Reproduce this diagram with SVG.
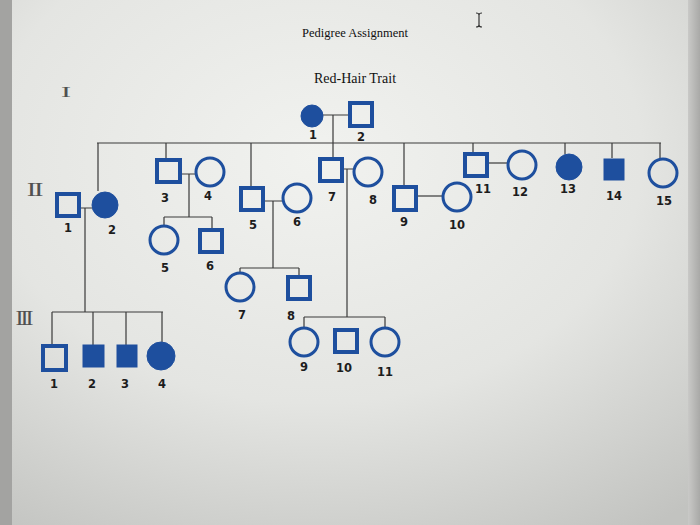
<svg xmlns="http://www.w3.org/2000/svg" width="700" height="525" viewBox="0 0 700 525">
<defs>
<radialGradient id="bg" cx="0.45" cy="0.3" r="0.85">
<stop offset="0" stop-color="#f1f2ef"/>
<stop offset="0.55" stop-color="#e4e5e2"/>
<stop offset="1" stop-color="#c2c3c0"/>
</radialGradient>
<linearGradient id="edgeR" x1="0" y1="0" x2="1" y2="0">
<stop offset="0" stop-color="#c9c9c7"/>
<stop offset="1" stop-color="#a9a9a7"/>
</linearGradient>
</defs>
<style>
.ln{stroke:#3a3a3a;stroke-width:1.2;fill:none}
.sq{fill:none;stroke:#1e4f9e;stroke-width:4}
.ci{fill:none;stroke:#1e4f9e;stroke-width:3}
.af{fill:#1e4f9e;stroke:#1e4f9e;stroke-width:1}
.lb{font-family:"DejaVu Sans",sans-serif;font-size:11.5px;font-weight:bold;fill:#1c1c1c;text-anchor:middle}
.gen{font-family:"Liberation Serif",serif;fill:#505050;text-anchor:middle}
.tt{font-family:"Liberation Serif",serif;fill:#111;text-anchor:middle}
</style>
<rect width="700" height="525" fill="url(#bg)"/>
<rect x="0" y="0" width="12" height="525" fill="#a3a3a1"/>
<rect x="688" y="0" width="12" height="525" fill="url(#edgeR)"/>
<g id="titles">
<text class="tt" x="355" y="37" font-size="12.5">Pedigree Assignment</text>
<text class="tt" x="355" y="83" font-size="14">Red-Hair Trait</text>
</g>
<g id="cursor" stroke="#333" stroke-width="1.2" fill="none">
<path d="M479 14 V26 M476 13 Q479 13 479 15 Q479 13 482 13 M476 27 Q479 27 479 25 Q479 27 482 27"/>
</g>
<g id="generations">
<text class="gen" transform="translate(66 97) scale(2.0 1)" font-size="15">I</text>
<text class="gen" transform="translate(34 196) scale(1.5 1)" font-size="19" letter-spacing="-1.5">II</text>
<text class="gen" transform="translate(23 325) scale(1.2 1)" font-size="20" letter-spacing="-2.5">III</text>
</g>
<g id="connectors">
<path class="ln" d="M323 115 H348 M333 115 V143 M97 143 H661"/>
<path class="ln" d="M98 143 V191 M166 143 V158 M251 143 V186 M333 143 V157 M404 143 V186 M473 143 V152 M565 143 V154 M612 143 V158 M660 143 V159"/>
<path class="ln" d="M81 208 H92 M85 208 V312 M52 312 H163 M52 312 V344 M93 312 V345 M126 312 V345 M162 312 V342"/>
<path class="ln" d="M182 174 H196 M189 174 V217 M164 217 H212 M164 217 V226 M212 217 V228"/>
<path class="ln" d="M265 201 H283 M273 201 V268 M240 268 H299 M240 268 V273 M299 268 V275"/>
<path class="ln" d="M343 169 H354 M347 169 V317 M304 317 H385 M304 317 V328 M385 317 V328"/>
<path class="ln" d="M417 196 H443"/>
<path class="ln" d="M489 163 H508"/>
</g>
<g id="I-1"><circle class="af" cx="312" cy="116" r="11"/><text class="lb" x="313" y="139">1</text></g>
<g id="I-2"><rect class="sq" x="350" y="103" width="22" height="23"/><text class="lb" x="361" y="141">2</text></g>
<g id="II-1"><rect class="sq" x="57" y="194" width="22" height="22"/><text class="lb" x="68" y="232">1</text></g>
<g id="II-2"><circle class="af" cx="105" cy="205" r="13"/><text class="lb" x="112" y="234">2</text></g>
<g id="II-3"><rect class="sq" x="157" y="160" width="23" height="22"/><text class="lb" x="165" y="202">3</text></g>
<g id="II-4"><circle class="ci" cx="210" cy="172" r="14"/><text class="lb" x="208" y="200">4</text></g>
<g id="II-5a"><circle class="ci" cx="164" cy="240" r="14"/><text class="lb" x="165" y="272">5</text></g>
<g id="II-6a"><rect class="sq" x="200" y="230" width="22" height="22"/><text class="lb" x="210" y="270">6</text></g>
<g id="II-5"><rect class="sq" x="241" y="188" width="22" height="22"/><text class="lb" x="253" y="229">5</text></g>
<g id="II-6"><circle class="ci" cx="297" cy="198" r="14"/><text class="lb" x="297" y="226">6</text></g>
<g id="II-7"><rect class="sq" x="320" y="159" width="22" height="22"/><text class="lb" x="332" y="201">7</text></g>
<g id="II-8"><circle class="ci" cx="368" cy="172" r="14"/><text class="lb" x="373" y="204">8</text></g>
<g id="II-9"><rect class="sq" x="394" y="187" width="22" height="23"/><text class="lb" x="404" y="226">9</text></g>
<g id="II-10"><circle class="ci" cx="457" cy="197" r="14"/><text class="lb" x="457" y="229">10</text></g>
<g id="II-11"><rect class="sq" x="465" y="154" width="22" height="22"/><text class="lb" x="483" y="193">11</text></g>
<g id="II-12"><circle class="ci" cx="522" cy="165" r="14"/><text class="lb" x="520" y="196">12</text></g>
<g id="II-13"><circle class="af" cx="569" cy="167" r="13"/><text class="lb" x="568" y="193">13</text></g>
<g id="II-14"><rect class="af" x="604" y="159" width="20" height="21"/><text class="lb" x="614" y="200">14</text></g>
<g id="II-15"><circle class="ci" cx="663" cy="173" r="14"/><text class="lb" x="664" y="205">15</text></g>
<g id="III-1"><rect class="sq" x="43" y="346" width="23" height="24"/><text class="lb" x="54" y="388">1</text></g>
<g id="III-2"><rect class="af" x="83" y="345" width="21" height="22"/><text class="lb" x="92" y="388">2</text></g>
<g id="III-3"><rect class="af" x="117" y="345" width="20" height="22"/><text class="lb" x="125" y="388">3</text></g>
<g id="III-4"><circle class="af" cx="161" cy="356" r="14"/><text class="lb" x="162" y="388">4</text></g>
<g id="III-7"><circle class="ci" cx="240" cy="287" r="14"/><text class="lb" x="242" y="319">7</text></g>
<g id="III-8"><rect class="sq" x="288" y="277" width="22" height="22"/><text class="lb" x="291" y="320">8</text></g>
<g id="III-9"><circle class="ci" cx="304" cy="342" r="14"/><text class="lb" x="304" y="371">9</text></g>
<g id="III-10"><rect class="sq" x="335" y="330" width="22" height="22"/><text class="lb" x="344" y="372">10</text></g>
<g id="III-11"><circle class="ci" cx="385" cy="342" r="14"/><text class="lb" x="385" y="376">11</text></g>
</svg>
